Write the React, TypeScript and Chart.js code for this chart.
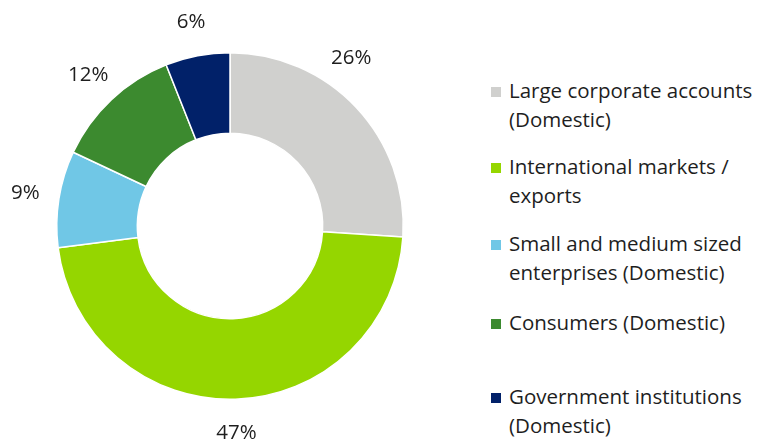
import React, { useEffect, useRef } from "react";
import { Chart, registerables } from "chart.js";

Chart.register(...registerables);

const categories = [
  "Large corporate accounts (Domestic)",
  "International markets / exports",
  "Small and medium sized enterprises (Domestic)",
  "Consumers (Domestic)",
  "Government institutions (Domestic)",
];
const legendLines = [
  ["Large corporate accounts", "(Domestic)"],
  ["International markets /", "exports"],
  ["Small and medium sized", "enterprises (Domestic)"],
  ["Consumers (Domestic)"],
  ["Government institutions", "(Domestic)"],
];
const values = [26, 47, 9, 12, 6];
const colors = ["#d0d0ce", "#95d600", "#70c7e6", "#3c8a2f", "#012169"];

const FONT = '"Open Sans", sans-serif';
const TEXT = "#1e1e1e";
// angular nudge (degrees) for individual value labels
const labelNudge = [-11, 0, 0, 0, 0];
const legendTops = [76, 152, 229, 308, 382];

const outsideLabels = {
  id: "outsideLabels",
  afterDatasetsDraw(chart: any) {
    const ctx = chart.ctx;
    const meta = chart.getDatasetMeta(0);
    ctx.save();
    ctx.font = `20.5px ${FONT}`;
    ctx.fillStyle = TEXT;
    ctx.textAlign = "center";
    ctx.textBaseline = "middle";
    meta.data.forEach((arc: any, i: number) => {
      const p = arc.getProps(["x", "y", "startAngle", "endAngle", "outerRadius"], true);
      const mid = (p.startAngle + p.endAngle) / 2 + (labelNudge[i] * Math.PI) / 180;
      const r = p.outerRadius + 34;
      const x = p.x + Math.cos(mid) * r;
      const y = p.y + Math.sin(mid) * r;
      ctx.fillText(`${values[i]}%`, x, y);
    });
    ctx.restore();
  },
};

export default function App() {
  const ref = useRef<HTMLCanvasElement | null>(null);
  useEffect(() => {
    document.body.style.margin = "0";
    const chart = new Chart(ref.current as HTMLCanvasElement, {
      type: "doughnut",
      data: {
        labels: categories,
        datasets: [
          {
            data: values,
            backgroundColor: colors,
            borderColor: "#ffffff",
            borderWidth: 1.5,
          },
        ],
      },
      options: {
        animation: false,
        responsive: false,
        cutout: "53.5%",
        layout: { padding: { left: 56, right: 56, top: 52, bottom: 41 } },
        plugins: {
          legend: { display: false },
          tooltip: { enabled: false },
        },
      },
      plugins: [outsideLabels],
    });
    return () => chart.destroy();
  }, []);

  return (
    <div style={{ position: "absolute", left: 0, top: 0, width: 760, height: 441, background: "#fff" }}>
      <canvas ref={ref} width={460} height={441} style={{ position: "absolute", left: 0, top: 0 }} />
      {legendLines.map((lines, i) => (
        <div
          key={i}
          style={{
            position: "absolute",
            left: 490,
            top: legendTops[i],
            fontFamily: FONT,
            fontSize: 20.5,
            lineHeight: "28.5px",
            color: TEXT,
            whiteSpace: "nowrap",
          }}
        >
          <span
            style={{
              position: "absolute",
              left: 1,
              top: 11,
              width: 10,
              height: 10,
              background: colors[i],
            }}
          />
          <div style={{ marginLeft: 19 }}>
            {lines.map((l, j) => (
              <div key={j}>{l}</div>
            ))}
          </div>
        </div>
      ))}
    </div>
  );
}
